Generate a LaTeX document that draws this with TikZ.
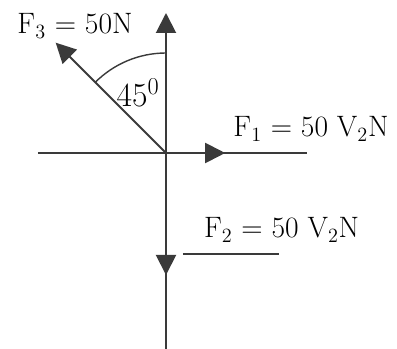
\documentclass[tikz,border=0pt]{standalone}
\usepackage{tikz}
\usetikzlibrary{arrows.meta}
\definecolor{linegray}{HTML}{3A3A3A}

\begin{document}
\begin{tikzpicture}[axis/.style={linegray,line width=1.4pt},
    force/.style={axis,-{Triangle[length=0.5cm,width=0.5cm]}},
    lbl/.style={anchor=base,font=\fontsize{21}{25}\selectfont}]
    \useasboundingbox (-4.15,-4.9) rectangle (5.775,3.825);
    \coordinate (O) at (0,0);
    \draw[axis] (-3.2,0) -- (3.525,0);
    \draw[force] (0,-4.9) -- (0,3.5);
    \draw[force] (O) -- (1.48,0);
    \draw[force] (O) -- (0,-3.05);
    \draw[force] (O) -- (135:3.9);
    \draw[linegray,line width=1pt] (0,2.5) arc[start angle=90,end angle=135,radius=2.5];
    \node[lbl] (f3) at (-2.275,2.975) {F$_3$ = 50N};
    \node[lbl] (f1) at (3.625,0.4) {F$_1$ = 50 V$_2$N};
    \node[lbl] (f2) at (2.89,-2.125) {F$_2$ = 50 V$_2$N};
    \node[lbl,font=\fontsize{24}{28}\selectfont] (ang) at (-0.7,1.15) {45$^0$};
    \draw[linegray,line width=1pt] (0.425,-2.525) -- (2.825,-2.525);
  \end{tikzpicture}
\end{document}
